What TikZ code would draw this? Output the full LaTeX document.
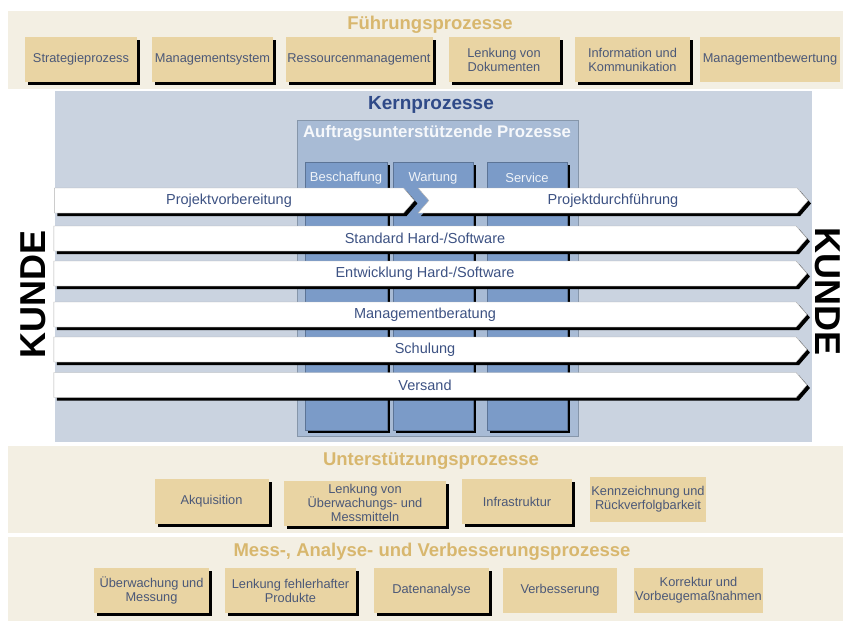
\documentclass[tikz,border=0pt]{standalone}
\usepackage{fontspec}
\setmainfont{Liberation Sans}
\usepackage{tikz}
\usepackage{xcolor}
\usetikzlibrary{shapes.symbols, shadows, positioning}

\definecolor{panelbeige}{HTML}{F3EFE3}
\definecolor{boxtan}{HTML}{E9D4A3}
\definecolor{titlegold}{HTML}{D8B76E}
\definecolor{kernbg}{HTML}{CAD3E0}
\definecolor{auftragbg}{HTML}{A8BBD5}
\definecolor{spalteblue}{HTML}{7B9BC8}
\definecolor{kerntitle}{HTML}{2F4A88}
\definecolor{boxtext}{HTML}{4B5878}
\definecolor{pfeiltext}{HTML}{3D5283}

\begin{document}
\begin{tikzpicture}[x=1pt, y=-1pt,
  schatten/.style={drop shadow={opacity=1, fill=black, shadow xshift=3pt, shadow yshift=-3pt}},
  titel/.style={text=titlegold, font=\fontsize{18.5}{21}\selectfont\bfseries},
  prozbox/.style={fill=boxtan, text=boxtext, align=center, inner sep=1pt,
    minimum height=45pt, font=\fontsize{12.8}{14}\selectfont},
  spalte/.style={fill=spalteblue, draw=spalteblue!75!black, minimum width=80pt,
    minimum height=268pt, schatten},
  spaltetext/.style={text=white!88!spalteblue, font=\fontsize{13}{15}\selectfont},
  pfeil/.style={signal, signal to=east, signal pointer angle=98, fill=white,
    draw=gray!60, text=pfeiltext, minimum height=25pt, inner sep=0pt,
    font=\fontsize{14.5}{16}\selectfont, schatten},
  kunde/.style={font=\fontsize{36}{40}\selectfont\bfseries, inner sep=0pt}]

\useasboundingbox (0,0) rectangle (843,623);
\fill[white] (0,0) rectangle (843,623);

% Fuehrungsprozesse
\fill[panelbeige] (8,11) rectangle (843,89);
\node[titel] (fuehrung) at (430,25) {Führungsprozesse};
\node[prozbox, schatten, minimum width=112pt] (strategie) at (81,59.5) {Strategieprozess};
\node[prozbox, schatten, minimum width=121pt] (mgmtsys) at (212.5,59.5) {Managementsystem};
\node[prozbox, schatten, minimum width=147pt] (ressourcen) at (359,59.5) {Ressourcenmanagement};
\node[prozbox, schatten, minimum width=111pt] (dokumente) at (504,59.5) {Lenkung von\\Dokumenten};
\node[prozbox, schatten, minimum width=115pt] (info) at (632.5,59.5) {Information und\\Kommunikation};
\node[prozbox, minimum width=140pt] (bewertung) at (770,59.5) {Managementbewertung};

% Kernprozesse
\fill[kernbg] (55,91) rectangle (812,442);
\node[text=kerntitle, font=\fontsize{19}{21}\selectfont\bfseries] (kern) at (431,105) {Kernprozesse};
\filldraw[fill=auftragbg, draw=auftragbg!80!black] (297,120) rectangle (578,436);
\node[text=white!90!auftragbg, font=\fontsize{16.8}{19}\selectfont\bfseries] (auftrag) at (437,133) {Auftragsunterstützende Prozesse};

\node[spalte, minimum width=82pt] (beschaffung) at (346,296) {};
\node[spalte] (wartung) at (433,296) {};
\node[spalte] (service) at (527,296) {};
\node[spaltetext] (beschaffungtxt) at (346,178) {Beschaffung};
\node[spaltetext] (wartungtxt) at (433,178) {Wartung};
\node[spaltetext] (servicetxt) at (527,178) {Service};

% Pfeile
\node[pfeil, minimum width=360pt] (vorbereitung) at (229,200.5) {Projektvorbereitung};
\node[pfeil, signal from=west, minimum width=390pt] (durchfuehrung) at (613,200.5) {Projektdurchführung};
\node[pfeil, minimum width=753pt] (standard) at (425,238.5) {Standard Hard-/Software};
\node[pfeil, minimum width=753pt] (entwicklung) at (425,273.5) {Entwicklung Hard-/Software};
\node[pfeil, minimum width=753pt] (beratung) at (425,314.5) {Managementberatung};
\node[pfeil, minimum width=753pt] (schulung) at (425,349.5) {Schulung};
\node[pfeil, minimum width=753pt] (versand) at (425,385) {Versand};

\node[kunde, rotate=90] (kundelinks) at (33.5,294) {KUNDE};
\node[kunde, rotate=-90] (kunderechts) at (828,292) {KUNDE};

% Unterstuetzungsprozesse
\fill[panelbeige] (8,446) rectangle (843,533);
\node[titel] (unterstuetzung) at (431,461) {Unterstützungsprozesse};
\node[prozbox, schatten, minimum width=114pt] (akquisition) at (211.5,501.5) {Akquisition};
\node[prozbox, schatten, minimum width=162pt] (messmittel) at (365,503) {Lenkung von\\Überwachungs- und\\Messmitteln};
\node[prozbox, schatten, minimum width=110pt] (infra) at (517,501.5) {Infrastruktur};
\node[prozbox, minimum width=116pt] (kennzeichnung) at (648,499) {Kennzeichnung und\\Rückverfolgbarkeit};

% Mess-, Analyse- und Verbesserungsprozesse
\fill[panelbeige] (8,537) rectangle (843,621);
\node[titel] (messanalyse) at (432,552) {Mess-, Analyse- und Verbesserungsprozesse};
\node[prozbox, schatten, minimum width=115pt] (ueberwachung) at (151.5,590.5) {Überwachung und\\Messung};
\node[prozbox, schatten, minimum width=131pt] (fehlerhaft) at (290.5,590.5) {Lenkung fehlerhafter\\Produkte};
\node[prozbox, schatten, minimum width=115pt] (datenanalyse) at (431.5,590.5) {Datenanalyse};
\node[prozbox, minimum width=114pt] (verbesserung) at (560,590.5) {Verbesserung};
\node[prozbox, minimum width=129pt] (korrektur) at (698.5,590.5) {Korrektur und\\Vorbeugemaßnahmen};
\end{tikzpicture}
\end{document}
